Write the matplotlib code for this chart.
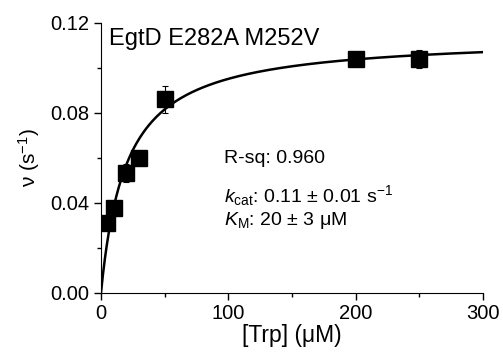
import numpy as np
import matplotlib
matplotlib.use("Agg")
import matplotlib.pyplot as plt
from matplotlib.ticker import MultipleLocator

plt.rcParams['font.family'] = ['Liberation Sans', 'DejaVu Sans']
plt.rcParams['mathtext.fontset'] = 'custom'
plt.rcParams['mathtext.rm'] = 'Liberation Sans'
plt.rcParams['mathtext.it'] = 'Liberation Sans:italic'

# data
trp = [5, 10, 20, 30, 50, 200, 250]          # uM
rate = [0.031, 0.0375, 0.053, 0.0597, 0.086, 0.1038, 0.1038]   # s^-1
err = [0.0015, 0.0015, 0.004, 0.003, 0.006, 0.0012, 0.0042]

# Michaelis-Menten fit parameters
vmax = 0.114
km = 20.0

fig = plt.figure(figsize=(5.03, 3.53), dpi=100)
ax = fig.add_axes([0.2008, 0.171, 0.7594, 0.765])

xf = np.linspace(0, 300, 600)
ax.plot(xf, vmax*xf/(km+xf), color='k', lw=1.8, zorder=2)
ax.errorbar(trp, rate, yerr=err, fmt='s', color='k', ms=11.5, capsize=2,
            elinewidth=0.8, capthick=0.8, zorder=3)

ax.set_xlim(0, 300)
ax.set_ylim(0, 0.12)
ax.xaxis.set_major_locator(MultipleLocator(100))
ax.xaxis.set_minor_locator(MultipleLocator(50))
ax.yaxis.set_major_locator(MultipleLocator(0.04))
ax.yaxis.set_minor_locator(MultipleLocator(0.02))
ax.yaxis.set_major_formatter(plt.FormatStrFormatter('%.2f'))
for s in ['top', 'right']:
    ax.spines[s].set_visible(False)
ax.tick_params(which='major', direction='out', length=5, width=1, labelsize=14.5)
ax.tick_params(axis='x', which='major', pad=3)
ax.tick_params(which='minor', direction='out', length=3, width=1)

ax.set_xlabel('[Trp] (μM)', fontsize=16.5, labelpad=1)
ax.set_ylabel(r'ν (s$^{\mathrm{-1}}$)', fontsize=15, labelpad=6)

ax.text(0.021, 0.917, 'EgtD E282A M252V', transform=ax.transAxes,
        fontsize=17, va='baseline', ha='left')
ax.text(0.322, 0.48, 'R-sq: 0.960', transform=ax.transAxes, fontsize=14,
        va='baseline')
ax.text(0.322, 0.337, r'$k_{\mathrm{cat}}$: 0.11 ± 0.01 s$^{\mathrm{-1}}$',
        transform=ax.transAxes, fontsize=14, va='baseline')
ax.text(0.322, 0.251, r'$K_{\mathrm{M}}$: 20 ± 3 μM',
        transform=ax.transAxes, fontsize=14, va='baseline')

fig.savefig('out.png', dpi=100)
